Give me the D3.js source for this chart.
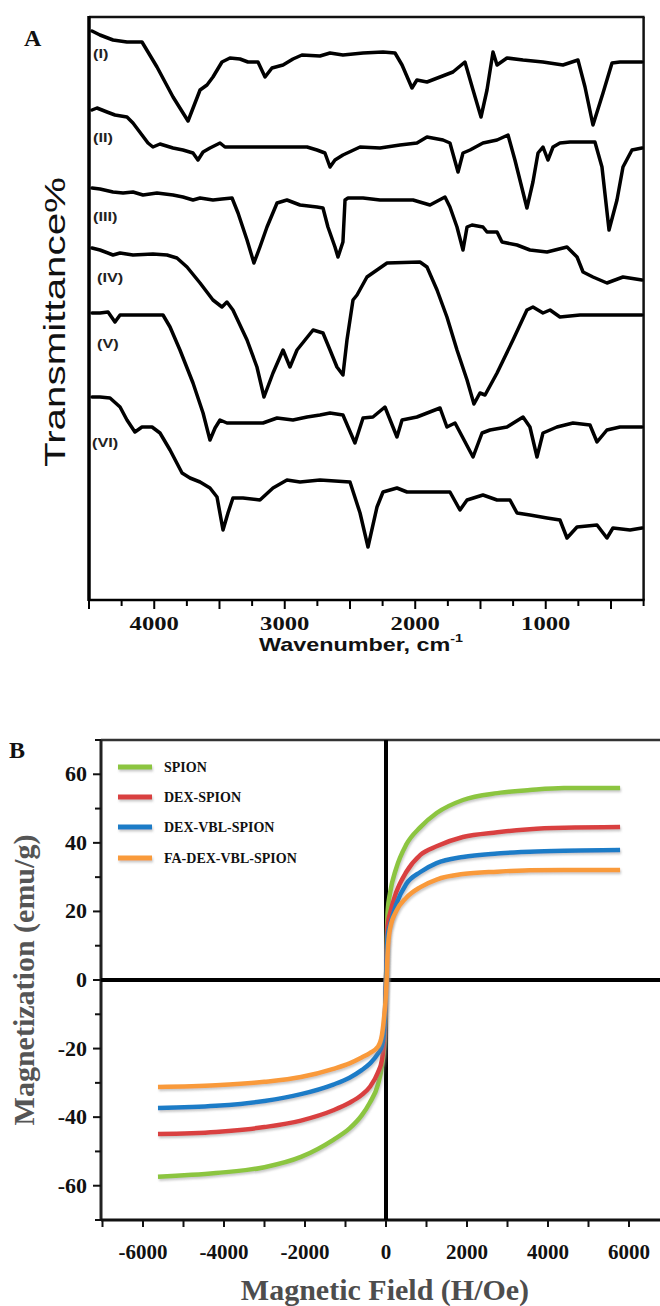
<!DOCTYPE html>
<html><head><meta charset="utf-8">
<script src="https://cdn.jsdelivr.net/npm/d3@7"></script>
<style>body{margin:0;background:#fff}svg{display:block}</style>
</head><body>
<svg id="c" width="660" height="1306"></svg>
<script>
// ================= Panel A data: FTIR spectra [wavenumber cm-1, transmittance (a.u., stacked)] =================
const spectrumLabels = ["(I)","(II)","(III)","(IV)","(V)","(VI)"];
const specI = [[4477,113.8],[4416,113],[4316,112],[4209,111.6],[4094,111.6],[3979,106.6],[3856,100.6],[3741,95.8],[3649,102],[3596,103],[3550,104.6],[3481,107.6],[3420,108.4],[3343,108.2],[3282,107.6],[3205,107.6],[3151,104.6],[3098,106.4],[3013,107],[2937,108.2],[2868,109],[2730,108.8],[2653,109.4],[2554,109],[2400,109.4],[2247,109.6],[2155,109.4],[2101,107],[2025,102.4],[1987,104],[1910,103.6],[1810,104.6],[1711,105.6],[1619,107.6],[1557,102],[1496,96.6],[1450,102],[1404,109.6],[1373,107],[1297,108.4],[1174,108],[1021,107.6],[868,107],[753,108],[699,102.6],[638,95],[561,101.4],[492,107.4],[431,107.6],[262,107.6]];
const specII = [[4477,98],[4439,98.4],[4362,97.6],[4301,97],[4209,96.6],[4163,95.4],[4094,93],[4048,91.4],[4010,90.6],[3956,91.2],[3856,90.4],[3780,90],[3703,89.4],[3665,88],[3626,89.6],[3573,90.4],[3496,91.4],[3458,90.6],[3343,90.6],[3136,90.6],[2829,90.6],[2753,90],[2692,89.4],[2653,86.6],[2615,88],[2554,89],[2423,90.6],[2270,90.4],[2117,91],[1987,91.4],[1910,92.6],[1787,92],[1734,91.4],[1672,85.6],[1634,89.4],[1580,90],[1481,91.4],[1373,92],[1289,93],[1236,88],[1144,78.4],[1098,83.6],[1059,89.4],[1021,90.6],[983,88],[944,90.6],[891,91.4],[814,91.6],[623,91.6],[569,86.6],[515,74],[454,80],[408,86.6],[339,90],[262,90.4]];
const specIII = [[4477,82.4],[4416,82.2],[4316,81.6],[4239,81.4],[4163,81.6],[4086,81],[3979,81.4],[3856,81],[3780,80.6],[3703,80],[3649,80.4],[3550,80],[3481,80.2],[3404,80.4],[3358,77.4],[3289,72],[3236,67.4],[3190,70.6],[3136,74.6],[3059,79.4],[2983,80],[2883,79],[2753,78.6],[2707,78.4],[2669,74.6],[2615,70.6],[2592,68.6],[2554,71.6],[2538,80],[2515,80.4],[2400,80.4],[2270,80],[2140,80],[2017,80],[1887,79],[1772,80.6],[1734,78.6],[1680,74.6],[1634,70],[1603,74.6],[1565,75],[1481,74.6],[1450,73.6],[1373,73.6],[1335,71.6],[1220,71],[1121,70],[990,69.6],[837,70.6],[760,68.6],[714,65.6],[638,64.6],[531,63.4],[408,64.6],[262,64]];
const specIV = [[4477,70.4],[4416,70],[4316,69],[4262,69.4],[4163,69],[4010,69.2],[3902,69],[3826,68.4],[3749,66.6],[3649,63.4],[3550,60],[3481,58.6],[3443,59.6],[3397,58],[3289,52],[3213,46.6],[3159,40.6],[3090,45.4],[3013,50],[2960,46.6],[2906,50],[2783,54],[2707,53.4],[2653,50],[2600,46.6],[2554,45],[2523,52],[2477,60],[2446,61],[2370,64.6],[2216,67.4],[1964,67.6],[1910,66.6],[1833,62],[1757,56.6],[1680,50],[1603,44],[1550,39.2],[1504,41.4],[1465,41],[1373,45.4],[1251,52],[1144,58],[1098,58.6],[1021,57.4],[967,58],[891,56.6],[737,57],[485,57],[262,57]];
const specV = [[4477,57.4],[4416,57.4],[4354,57.6],[4301,55.6],[4262,57],[4163,57],[4056,57],[3933,57],[3879,54.6],[3803,50],[3703,43.4],[3626,37.4],[3573,32],[3534,34.4],[3496,36],[3443,35.4],[3343,35.4],[3167,35.4],[3059,36.4],[2937,36],[2829,36.6],[2730,37],[2653,37.4],[2554,37],[2462,31.4],[2400,36.4],[2324,36.6],[2232,38.6],[2140,32.6],[2101,36],[1987,36.6],[1810,38.4],[1757,34.6],[1695,35.4],[1557,28.6],[1488,33.4],[1427,34],[1297,34.6],[1174,36.6],[1121,34.6],[1067,28.6],[1021,33.4],[914,34.6],[791,35.4],[661,35],[607,31.6],[531,34],[431,34.6],[262,34.6]];
const specVI = [[4477,40.6],[4416,40.6],[4339,40.4],[4262,38.6],[4209,36],[4148,33.6],[4094,34.6],[4017,34.6],[3956,33.4],[3879,30],[3787,25.4],[3726,24.4],[3649,23.6],[3573,22.4],[3519,20.6],[3473,14],[3435,17.4],[3397,20.4],[3320,20.4],[3190,20],[3090,22.4],[2983,24],[2883,23.6],[2730,24],[2500,23.6],[2423,17.4],[2362,10.6],[2293,18.6],[2247,21.6],[2140,22.4],[2063,21.6],[1734,21.6],[1657,18],[1603,20],[1481,21],[1373,20],[1274,20],[1220,17.4],[1121,17],[990,16.4],[891,16],[837,12.4],[760,14.6],[607,15],[531,12.4],[485,14.4],[354,14],[262,14.4]];
const spectra = [specI, specII, specIII, specIV, specV, specVI];
const wavenumberDomain = [4500, 250];
const wavenumberTicks = [4000, 3000, 2000, 1000];

// ================= Panel B data: magnetization curves =================
const seriesNames = ["SPION", "DEX-SPION", "DEX-VBL-SPION", "FA-DEX-VBL-SPION"];
const fieldOe   = [-5630,-4200,-3000,-2100,-1300,-900,-600,-400,-200,-100,-40,0,40,100,250,500,850,1250,1900,2750,3550,4400,5780];
const mSPION    = [-57.4,-56.3,-54.6,-51.6,-46.6,-43.3,-39.5,-35.8,-30.5,-25,-18,0,20,25.4,32.5,39.5,44.6,48.7,52.5,54.5,55.4,56,56];
const mDEX      = [-44.9,-44.3,-42.9,-41,-38,-35.8,-33.5,-31.2,-27,-23.3,-16,0,16,19.5,25.5,31.5,36.5,39,41.7,43.1,44,44.4,44.6];
const mDEXVBL   = [-37.3,-36.7,-35.3,-33.3,-30.5,-28.5,-26.3,-24.4,-21.5,-19.2,-14,0,13,16,22,28,31.5,34.1,35.9,36.9,37.4,37.7,37.9];
const mFADEXVBL = [-31.2,-30.7,-29.7,-28.3,-25.9,-24.3,-22.6,-21.3,-19.5,-16,-10,-4,8,15,20,24,27.1,29.3,30.9,31.6,32,32.1,32.1];
const magSeries = [mSPION, mDEX, mDEXVBL, mFADEXVBL];
const fieldTicks = [-6000,-4000,-2000,0,2000,4000,6000];
const magTicks = [-60,-40,-20,0,20,40,60];

// ================= Layout / styles =================
const svg = d3.select("#c");
const seriesColors = ["#8cc540", "#d94141", "#1d7cc7", "#f99a3b"];
const serif = "Liberation Serif, Times New Roman, serif";
const sans = "Liberation Sans, Arial, sans-serif";

const defs = svg.append("defs");
const f = defs.append("filter").attr("id", "sh").attr("filterUnits", "userSpaceOnUse")
  .attr("x", 0).attr("y", 0).attr("width", 660).attr("height", 1306);
f.append("feDropShadow").attr("dx", 1).attr("dy", 2).attr("stdDeviation", 1.2).attr("flood-color", "#888").attr("flood-opacity", 0.45);

// ---------- Panel A ----------
const A = {left: 89, right: 643.6, top: 17, bottom: 600};
const xA = d3.scaleLinear().domain(wavenumberDomain).range([A.left, A.right]);
const yA = d3.scaleLinear().domain([0, 116.6]).range([A.bottom, A.top]);
const gA = svg.append("g");

gA.append("line").attr("x1", A.left).attr("x2", A.right + 1).attr("y1", A.top).attr("y2", A.top).attr("stroke", "#111").attr("stroke-width", 2.5);
gA.append("line").attr("x1", A.right).attr("x2", A.right).attr("y1", A.top).attr("y2", A.bottom).attr("stroke", "#111").attr("stroke-width", 2.5);
gA.append("line").attr("x1", A.left).attr("x2", A.left).attr("y1", A.top - 1).attr("y2", A.bottom + 1).attr("stroke", "#000").attr("stroke-width", 3.5);
gA.append("line").attr("x1", A.left).attr("x2", A.right + 1).attr("y1", A.bottom).attr("y2", A.bottom).attr("stroke", "#000").attr("stroke-width", 2.5);
d3.range(4500, 249, -250).forEach(w => {
  const long = w % 500 === 0;
  gA.append("line").attr("x1", xA(w)).attr("x2", xA(w)).attr("y1", A.bottom).attr("y2", A.bottom + (long ? 9 : 6))
    .attr("stroke", "#000").attr("stroke-width", 2);
});
wavenumberTicks.forEach(w => {
  gA.append("text").attr("transform", `translate(${xA(w)},630) scale(1.3,1)`)
    .attr("text-anchor", "middle").attr("font-family", serif)
    .attr("font-weight", "bold").attr("font-size", 19).attr("fill", "#111").text(w);
});
const tA = gA.append("text").attr("transform", "translate(361,651) scale(1.3,1)").attr("text-anchor", "middle")
  .attr("font-family", sans).attr("font-weight", "bold").attr("font-size", 18).attr("fill", "#111");
tA.append("tspan").text("Wavenumber, cm");
tA.append("tspan").attr("dy", -9).attr("font-size", 11).text("-1");

gA.append("text").attr("transform", "translate(65,322) rotate(-90)").attr("text-anchor", "middle")
  .attr("font-family", sans).attr("font-size", 30).attr("fill", "#111")
  .attr("textLength", 290).attr("lengthAdjust", "spacingAndGlyphs").text("Transmittance%");

gA.append("text").attr("x", 24).attr("y", 46).attr("font-family", serif)
  .attr("font-weight", "bold").attr("font-size", 24).attr("fill", "#111").text("A");

const lineA = d3.line().x(d => xA(d[0])).y(d => yA(d[1]));
spectra.forEach(s => {
  gA.append("path").attr("d", lineA(s)).attr("fill", "none").attr("stroke", "#000")
    .attr("stroke-width", 3.5).attr("stroke-linejoin", "round").attr("stroke-linecap", "round");
});
const labelDx = [1, 1, 1, 5, 5, 0];
const labelDy = [27, 32, 33, 34, 35, 50];
spectrumLabels.forEach((lab, i) => {
  const lx = xA(spectra[i][0][0]) + labelDx[i], ly = yA(spectra[i][0][1]) + labelDy[i];
  gA.append("text").attr("transform", `translate(${lx},${ly}) scale(1.25,1)`)
    .attr("font-family", sans).attr("font-weight", "bold").attr("font-size", 13)
    .attr("fill", "#222").text(lab);
});

// ---------- Panel B ----------
const B = {left: 101, top: 740, bottom: 1220, x0: 102.5, x1: 669.5};
const xB = d3.scaleLinear().domain([-7000, 7000]).range([B.x0, B.x1]);
const yB = d3.scaleLinear().domain([-70, 70]).range([B.bottom, B.top]);
const gB = svg.append("g");

gB.append("line").attr("x1", B.left).attr("x2", 660).attr("y1", B.top).attr("y2", B.top).attr("stroke", "#333").attr("stroke-width", 2.5);
gB.append("line").attr("x1", B.left).attr("x2", B.left).attr("y1", B.top).attr("y2", B.bottom).attr("stroke", "#222").attr("stroke-width", 3);
gB.append("line").attr("x1", B.left).attr("x2", 660).attr("y1", B.bottom).attr("y2", B.bottom).attr("stroke", "#111").attr("stroke-width", 3);

d3.range(-7000, 7001, 1000).forEach(h => {
  gB.append("line").attr("x1", xB(h)).attr("x2", xB(h)).attr("y1", B.bottom).attr("y2", B.bottom + 7).attr("stroke", "#111").attr("stroke-width", 2);
});
fieldTicks.forEach(h => {
  gB.append("text").attr("x", xB(h)).attr("y", 1259).attr("text-anchor", "middle")
    .attr("font-family", serif).attr("font-weight", "bold").attr("font-size", 21)
    .attr("fill", "#111").text(String(h));
});
d3.range(-70, 71, 10).forEach(m => {
  const major = m % 20 === 0;
  gB.append("line").attr("x1", B.left - (major ? 8 : 6)).attr("x2", B.left).attr("y1", yB(m)).attr("y2", yB(m)).attr("stroke", "#111").attr("stroke-width", 2);
});
magTicks.forEach(m => {
  gB.append("text").attr("x", 87).attr("y", yB(m) + 7).attr("text-anchor", "end")
    .attr("font-family", serif).attr("font-weight", "bold").attr("font-size", 22)
    .attr("fill", "#111").text(String(m));
});

gB.append("line").attr("x1", xB(0)).attr("x2", xB(0)).attr("y1", B.top).attr("y2", B.bottom).attr("stroke", "#000").attr("stroke-width", 4);
gB.append("line").attr("x1", B.left).attr("x2", 660).attr("y1", yB(0)).attr("y2", yB(0)).attr("stroke", "#000").attr("stroke-width", 4);

const lineB = d3.line().curve(d3.curveMonotoneX).x((d, i) => xB(fieldOe[i])).y(d => yB(d));
magSeries.forEach((s, i) => {
  gB.append("path").attr("d", lineB(s)).attr("fill", "none").attr("stroke", seriesColors[i])
    .attr("stroke-width", 4.5).attr("filter", "url(#sh)");
});

const legY = [767, 797, 827, 858];
seriesNames.forEach((n, i) => {
  gB.append("line").attr("x1", 118).attr("x2", 152).attr("y1", legY[i]).attr("y2", legY[i])
    .attr("stroke", seriesColors[i]).attr("stroke-width", 5).attr("filter", "url(#sh)");
  gB.append("text").attr("x", 164).attr("y", legY[i] + 5).attr("font-family", serif)
    .attr("font-weight", "bold").attr("font-size", 14).attr("fill", "#111").text(n);
});

gB.append("text").attr("x", 385).attr("y", 1300).attr("text-anchor", "middle")
  .attr("font-family", serif).attr("font-weight", "bold").attr("font-size", 30)
  .attr("fill", "#4d4d4d").text("Magnetic Field (H/Oe)");
gB.append("text").attr("transform", "translate(34,980) rotate(-90)").attr("text-anchor", "middle")
  .attr("font-family", serif).attr("font-weight", "bold").attr("font-size", 30)
  .attr("fill", "#555").text("Magnetization (emu/g)");
gB.append("text").attr("x", 9).attr("y", 758).attr("font-family", serif)
  .attr("font-weight", "bold").attr("font-size", 24).attr("fill", "#111").text("B");
</script>
</body></html>
